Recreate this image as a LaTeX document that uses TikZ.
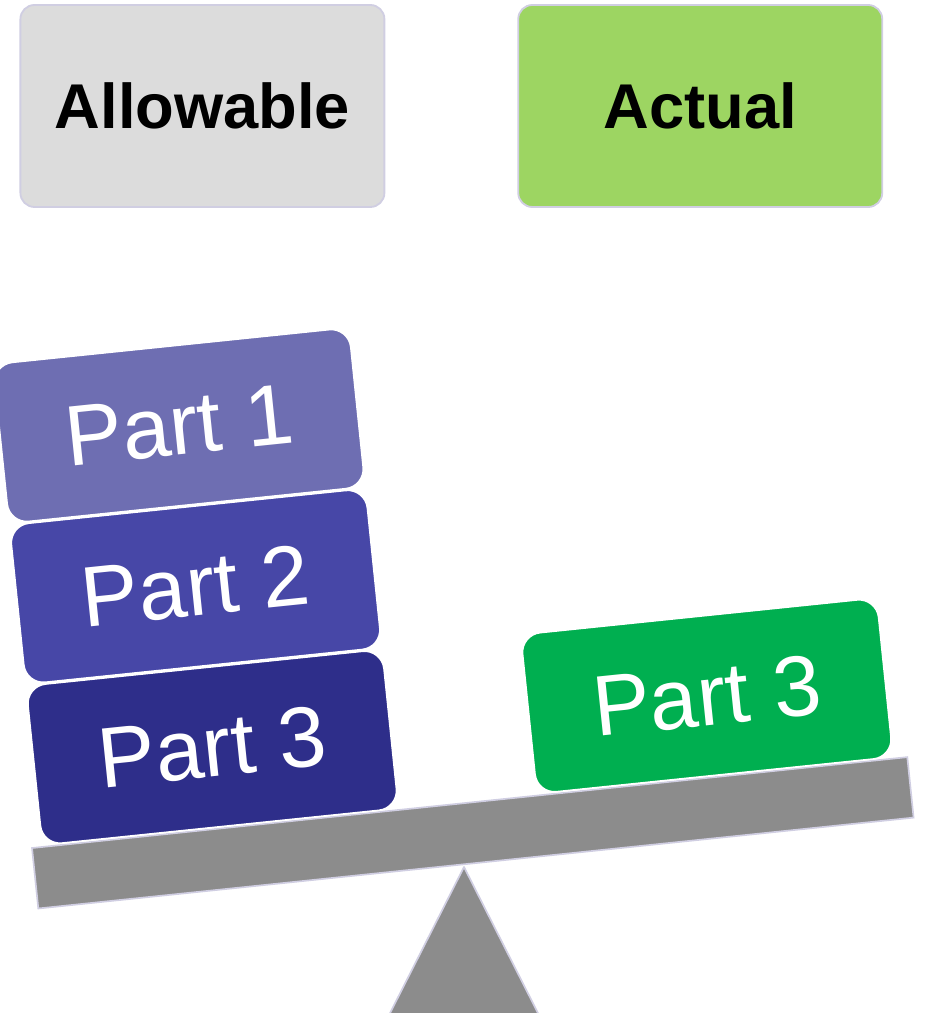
\documentclass[tikz,border=0pt]{standalone}
\usepackage{fontspec}
\setmainfont{Liberation Sans}
\usepackage{tikz}
\usetikzlibrary{positioning,calc}
\definecolor{allowgray}{RGB}{220,220,220}
\definecolor{actualgreen}{RGB}{157,213,98}
\definecolor{partone}{RGB}{110,110,178}
\definecolor{parttwo}{RGB}{71,71,167}
\definecolor{partthree}{RGB}{46,46,138}
\definecolor{partgreen}{RGB}{0,175,80}
\definecolor{scalegray}{RGB}{140,140,140}
\definecolor{edgelilac}{RGB}{208,206,226}

\begin{document}
\begin{tikzpicture}[
  head/.style={rectangle,rounded corners=10pt,minimum width=9.1cm,minimum height=5.05cm,
              draw=edgelilac,line width=1.3pt,inner sep=0pt,font=\fontsize{45}{54}\selectfont\bfseries},
  part/.style={rectangle,rounded corners=14pt,minimum width=8.95cm,minimum height=4cm,rotate=5.9,
              draw=white,line width=1.2pt,text=white,inner sep=0pt,font=\fontsize{61}{72}\selectfont},
  plank/.style={rectangle,minimum width=22cm,minimum height=1.52cm,rotate=5.93,inner sep=0pt,
              fill=scalegray,draw=edgelilac,line width=1.2pt},
  stand/.style={fill=scalegray,draw=edgelilac,line width=1.2pt,line join=round}]
  \useasboundingbox (0,0) rectangle (23.1,-25.325);
  \node[head,fill=allowgray](al) at (5.06,-2.65){Allowable};
  \node[head,fill=actualgreen,right=3.3cm of al](ac){Actual};
  \coordinate (tip) at (11.6,-21.675);
  \filldraw[stand](tip)--(9.6,-25.625)--(13.6,-25.625)--cycle;
  \node[plank](bm) at (11.82,-20.82){};
  \node[part,fill=partthree,anchor=south](p3) at ($(bm.north west)!0.216!(bm.north east)$){Part 3};
  \node[part,fill=parttwo,anchor=south](p2) at (p3.north){Part 2};
  \node[part,fill=partone,anchor=south](p1) at (p2.north){Part 1};
  \node[part,fill=partgreen,anchor=south](pg) at ($(bm.north west)!0.78!(bm.north east)$){Part 3};
\end{tikzpicture}
\end{document}
